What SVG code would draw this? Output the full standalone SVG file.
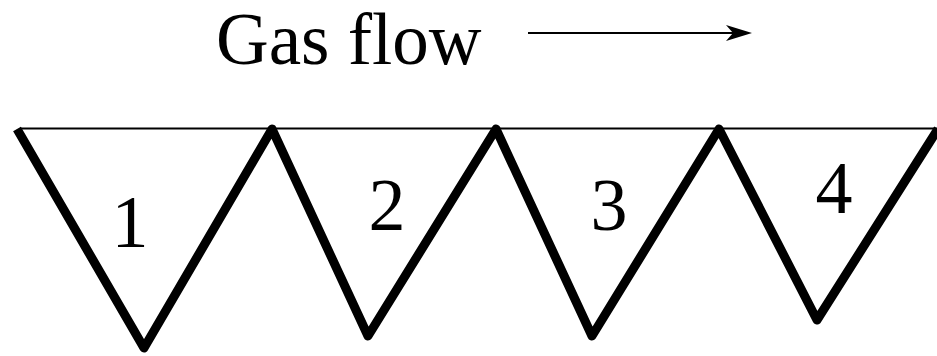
<svg xmlns="http://www.w3.org/2000/svg" width="937" height="356" viewBox="0 0 937 356">
<style>
text{font-family:"Liberation Serif","Times New Roman",serif;fill:#000}
.lbl{font-size:74px;text-anchor:middle}
.title{font-size:73px}
.thin{stroke:#000;stroke-width:2;fill:none}
.zig{stroke:#000;stroke-width:9;fill:none;stroke-linejoin:round;stroke-linecap:butt}
</style>
<rect width="937" height="356" fill="#fff"/>
<g id="title">
<text class="title" x="216" y="64">Gas flow</text>
<line class="thin" x1="528" y1="33" x2="736" y2="33"/>
<polygon points="752,33 726,25 733,33 726,41" fill="#000"/>
</g>
<g id="wall">
<line class="thin" x1="20" y1="128.5" x2="937" y2="128.5"/>
<polyline class="zig" points="17,129 144,348 272,129 368,336 496,129 592,336 719,129 817,320 938,129"/>
</g>
<g id="cell1"><text class="lbl" x="130" y="247">1</text></g>
<g id="cell2"><text class="lbl" x="387" y="230">2</text></g>
<g id="cell3"><text class="lbl" x="609" y="230">3</text></g>
<g id="cell4"><text class="lbl" x="834" y="213">4</text></g>
</svg>
